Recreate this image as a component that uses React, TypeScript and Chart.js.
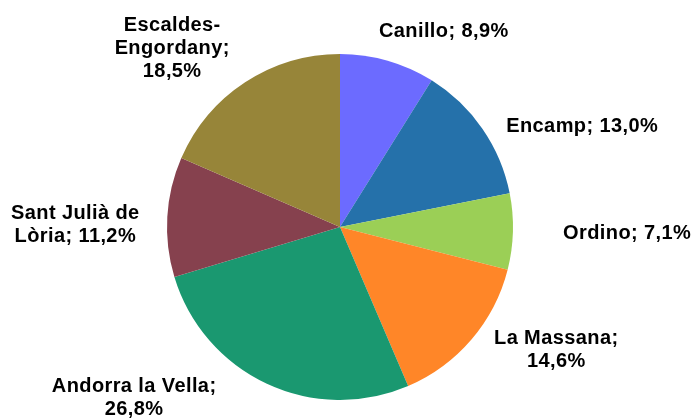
import React, { useEffect, useRef } from "react";
import { Chart, registerables } from "chart.js";

Chart.register(...registerables);

// Data
const categories = [
  "Canillo",
  "Encamp",
  "Ordino",
  "La Massana",
  "Andorra la Vella",
  "Sant Julià de Lòria",
  "Escaldes-Engordany",
];
const shares = [8.9, 13.0, 7.1, 14.6, 26.8, 11.2, 18.5];

// Styles / layout (not data)
const colors = ["#6C6BFF", "#2571AA", "#9BCF56", "#FF8628", "#1A9870", "#86414E", "#978539"];
// label centre relative to the arc centre, in units of the outer radius
const labelPlacement: [number, number][] = [
  [0.60, -1.13],
  [1.40, -0.58],
  [1.66, 0.04],
  [1.25, 0.71],
  [-1.19, 0.99],
  [-1.53, -0.01],
  [-0.97, -1.03],
];
// max line width for wrapping (0 = no wrap)
const labelWrap = [0, 0, 0, 135, 185, 135, 120];

const fmt = (v: number) => v.toFixed(1).replace(".", ",") + "%";

function wrapText(ctx: CanvasRenderingContext2D, text: string, maxW: number): string[] {
  if (!maxW) return [text];
  // tokens: split on spaces, and allow break after hyphen
  const tokens: { t: string; sep: string }[] = [];
  const parts = text.split(" ");
  parts.forEach((p, i) => {
    const hy = p.split(/(?<=-)/);
    hy.forEach((h, j) => {
      const last = j === hy.length - 1;
      tokens.push({ t: h, sep: last ? (i < parts.length - 1 ? " " : "") : "" });
    });
  });
  const lines: string[] = [];
  let cur = "";
  let pendingSep = "";
  for (const tok of tokens) {
    const cand = cur ? cur + pendingSep + tok.t : tok.t;
    if (cur && ctx.measureText(cand).width > maxW) {
      lines.push(cur);
      cur = tok.t;
    } else {
      cur = cand;
    }
    pendingSep = tok.sep;
  }
  if (cur) lines.push(cur);
  return lines;
}

const labelPlugin = {
  id: "pieLabels",
  afterDatasetsDraw(chart: any) {
    const ctx: CanvasRenderingContext2D = chart.ctx;
    const meta = chart.getDatasetMeta(0);
    ctx.save();
    ctx.font = "bold 20px 'Liberation Sans', Arial, sans-serif";
    (ctx as any).letterSpacing = "0.4px";
    ctx.fillStyle = "#000000";
    ctx.textAlign = "center";
    ctx.textBaseline = "middle";
    const lineH = 23;
    meta.data.forEach((arc: any, i: number) => {
      const { x, y, outerRadius } = arc.getProps(["x", "y", "outerRadius"], true);
      const [fx, fy] = labelPlacement[i];
      const cx = x + fx * outerRadius;
      const cy = y + fy * outerRadius;
      const text = `${categories[i]}; ${fmt(shares[i])}`;
      const lines = wrapText(ctx, text, labelWrap[i]);
      const y0 = cy - ((lines.length - 1) * lineH) / 2;
      lines.forEach((ln, k) => ctx.fillText(ln, cx, y0 + k * lineH));
    });
    ctx.restore();
  },
};

export default function App() {
  const ref = useRef<HTMLCanvasElement | null>(null);
  useEffect(() => {
    if (!ref.current) return;
    const chart = new Chart(ref.current, {
      type: "pie",
      data: {
        labels: categories,
        datasets: [
          {
            data: shares,
            backgroundColor: colors,
            borderWidth: 0,
          },
        ],
      },
      options: {
        animation: false,
        responsive: true,
        maintainAspectRatio: false,
        layout: { padding: { top: 54, bottom: 18, left: 0, right: 13 } },
        plugins: {
          legend: { display: false },
          tooltip: { enabled: false },
        },
      },
      plugins: [labelPlugin],
    });
    return () => chart.destroy();
  }, []);
  return (
    <div style={{ position: "absolute", left: 0, top: 0, width: 693, height: 418, background: "#ffffff" }}>
      <canvas ref={ref} />
    </div>
  );
}
